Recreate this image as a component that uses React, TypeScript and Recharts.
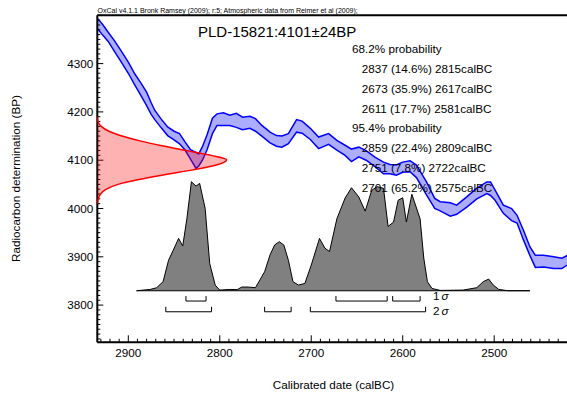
import { ComposedChart, Area, XAxis, YAxis, ReferenceLine } from "recharts";

const FONT = "'Liberation Sans', Arial, sans-serif";
const W = 567;
const H = 401;
const M_TOP = 15.3;
const M_LEFT = 97.3;
const M_BOTTOM = 58.7;

// calibration curve (IntCal09 band)
const calYears = [2934, 2928, 2922, 2915, 2908, 2900, 2893, 2886, 2880, 2875, 2871, 2864, 2857, 2850, 2844, 2838, 2832, 2826, 2823, 2819, 2814, 2808, 2803, 2796, 2789, 2782, 2775, 2767, 2761, 2754, 2745, 2738, 2732, 2725, 2716, 2710, 2701, 2692, 2681, 2672, 2663, 2656, 2648, 2640, 2630, 2621, 2614, 2607, 2600, 2592, 2585, 2574, 2565, 2559, 2548, 2541, 2530, 2519, 2508, 2504, 2499, 2490, 2481, 2475, 2468, 2461, 2455, 2446, 2435, 2426, 2420];
const curveHigh = [4394, 4381, 4365, 4347, 4327, 4303, 4279, 4259, 4241, 4219, 4203, 4185, 4169, 4160, 4155, 4138, 4122, 4116, 4113, 4128, 4152, 4187, 4196, 4198, 4193, 4197, 4189, 4191, 4186, 4172, 4158, 4151, 4150, 4155, 4184, 4181, 4166, 4148, 4155, 4141, 4131, 4123, 4127, 4120, 4106, 4096, 4091, 4090, 4096, 4099, 4090, 4055, 4021, 4014, 4012, 4007, 4024, 4042, 4055, 4055, 4038, 4007, 4000, 3986, 3955, 3921, 3903, 3903, 3900, 3897, 3903];
const curveLow = [4373, 4359, 4346, 4325, 4304, 4280, 4256, 4233, 4213, 4195, 4184, 4167, 4151, 4142, 4134, 4121, 4102, 4083, 4088, 4100, 4121, 4155, 4172, 4172, 4172, 4168, 4163, 4166, 4160, 4150, 4136, 4129, 4127, 4134, 4158, 4156, 4143, 4124, 4133, 4121, 4110, 4097, 4107, 4100, 4086, 4072, 4072, 4069, 4075, 4076, 4064, 4028, 4000, 3995, 3984, 3988, 4003, 4020, 4031, 4027, 4017, 3990, 3975, 3970, 3935, 3903, 3878, 3879, 3876, 3876, 3883];

// calibrated probability (relative)
const probYears = [2891, 2876, 2869, 2862, 2856, 2851, 2845, 2840.5, 2836, 2831, 2826, 2822, 2816, 2811, 2805, 2800, 2789, 2781, 2776, 2769, 2761, 2751, 2745, 2740, 2735, 2730, 2725, 2720, 2714, 2707, 2700, 2691, 2685, 2680, 2672, 2663, 2656, 2648, 2641, 2634, 2628, 2621, 2616, 2610, 2605, 2600, 2596, 2590, 2581, 2577, 2573, 2568, 2559, 2534, 2519, 2512, 2506, 2501, 2495, 2485, 2461];
const probValues = [0, 0.012, 0.028, 0.083, 0.28, 0.37, 0.48, 0.41, 0.66, 1.0, 0.96, 0.985, 0.755, 0.25, 0.052, 0.006, 0.012, 0.01, 0.034, 0.034, 0.028, 0.174, 0.33, 0.42, 0.45, 0.42, 0.28, 0.083, 0.052, 0.067, 0.235, 0.48, 0.39, 0.36, 0.66, 0.85, 0.945, 0.86, 0.73, 0.92, 0.955, 0.94, 0.59, 0.63, 0.83, 0.853, 0.63, 0.885, 0.66, 0.3, 0.083, 0.021, 0.003, 0.006, 0.028, 0.083, 0.107, 0.052, 0.012, 0, 0];

// radiocarbon measurement 4101±24 BP, drawn on the y axis
const gaussBP = [4190, 4180, 4170, 4160, 4150, 4140, 4130, 4120, 4110, 4101, 4090, 4080, 4070, 4060, 4050, 4040, 4030, 4020, 4010];
const gaussDensity = [0, 0.005, 0.03, 0.09, 0.19, 0.33, 0.5, 0.69, 0.88, 1.0, 0.92, 0.74, 0.52, 0.32, 0.16, 0.07, 0.025, 0.008, 0];

const oneSigma = [[2837, 2815], [2673, 2617], [2611, 2581]];
const oneSigmaPct = [14.6, 35.9, 17.7];
const twoSigma = [[2859, 2809], [2751, 2722], [2701, 2575]];
const twoSigmaPct = [22.4, 7.8, 65.2];

const xTicks: number[] = [];
for (let v = 2930; v >= 2430; v -= 10) xTicks.push(v);
const yTicks: number[] = [];
for (let v = 3730; v <= 4400; v += 10) yTicks.push(v);

const curveData = calYears.map((year, i) => ({ year, band: [curveLow[i], curveHigh[i]] }));
const probData = probYears.map((year, i) => ({ year, p: probValues[i] }));
const gaussData = gaussBP.map((bp, i) => ({ bp, d: gaussDensity[i] }));

const textLines = [
  { indent: false, text: "68.2% probability" },
  ...oneSigma.map((r, i) => ({ indent: true, text: `${r[0]} (${oneSigmaPct[i]}%) ${r[1]}calBC` })),
  { indent: false, text: "95.4% probability" },
  ...twoSigma.map((r, i) => ({ indent: true, text: `${r[0]} (${twoSigmaPct[i]}%) ${r[1]}calBC` })),
];

function XTick(props: any) {
  const { x, y, payload } = props;
  const major = payload.value % 100 === 0;
  return (
    <g>
      <line x1={x} x2={x} y1={y} y2={y - (major ? 7 : 3.5)} stroke="#000" strokeWidth={1} />
      {major && (
        <text x={x} y={y + 14.7} textAnchor="middle" fontSize={11.7} fontFamily={FONT} fill="#000">
          {payload.value}
        </text>
      )}
    </g>
  );
}

function YTick(props: any) {
  const { x, y, payload } = props;
  const major = payload.value % 100 === 0;
  return (
    <g>
      <line x1={x} x2={x + (major ? 6 : 3)} y1={y} y2={y} stroke="#000" strokeWidth={1} />
      {major && payload.value < 4400 && (
        <text x={x - 4} y={y + 4.2} textAnchor="end" fontSize={11.7} fontFamily={FONT} fill="#000">
          {payload.value}
        </text>
      )}
    </g>
  );
}

function brackets(ranges: number[][], top: number, bottom: number, key: string) {
  const out: any[] = [];
  ranges.forEach((r, i) => {
    out.push(<ReferenceLine key={`${key}b${i}`} yAxisId="p" segment={[{ x: r[0], y: bottom }, { x: r[1], y: bottom }]} stroke="#000" strokeWidth={1} />);
    out.push(<ReferenceLine key={`${key}l${i}`} yAxisId="p" segment={[{ x: r[0], y: top }, { x: r[0], y: bottom }]} stroke="#000" strokeWidth={1} />);
    out.push(<ReferenceLine key={`${key}r${i}`} yAxisId="p" segment={[{ x: r[1], y: top }, { x: r[1], y: bottom }]} stroke="#000" strokeWidth={1} />);
  });
  return out;
}

export default function App() {
  return (
    <div style={{ position: "absolute", left: 0, top: 0, width: W, height: H, background: "#fff", overflow: "hidden" }}>
      <ComposedChart width={W} height={H} margin={{ top: M_TOP, right: 0, bottom: 0, left: 0 }}>
        <XAxis
          xAxisId={0}
          type="number"
          dataKey="year"
          domain={[2420.4, 2933.9]}
          reversed
          allowDataOverflow
          ticks={xTicks}
          interval={0}
          tick={<XTick />}
          tickLine={false}
          tickSize={0}
          tickMargin={0}
          height={M_BOTTOM}
          axisLine={{ stroke: "#000", strokeWidth: 2 }}
        />
        <YAxis
          yAxisId="bp"
          type="number"
          domain={[3723, 4400]}
          allowDataOverflow
          ticks={yTicks}
          interval={0}
          tick={<YTick />}
          tickLine={false}
          tickSize={0}
          tickMargin={0}
          width={M_LEFT}
          axisLine={{ stroke: "#000", strokeWidth: 2 }}
        />
        <YAxis yAxisId="p" type="number" domain={[-0.473, 2.527]} allowDataOverflow hide />
        <Area
          yAxisId="bp"
          data={curveData}
          dataKey="band"
          type="linear"
          stroke="#0000ff"
          strokeWidth={1.5}
          fill="#0000ff"
          fillOpacity={0.32}
          isAnimationActive={false}
          dot={false}
          activeDot={false}
        />
        <Area
          yAxisId="p"
          data={probData}
          dataKey="p"
          type="linear"
          baseValue={0}
          stroke="#000"
          strokeWidth={1}
          fill="#808080"
          fillOpacity={1}
          isAnimationActive={false}
          dot={false}
          activeDot={false}
        />
        <ReferenceLine yAxisId="p" segment={[{ x: probYears[0], y: 0 }, { x: probYears[probYears.length - 1], y: 0 }]} stroke="#000" strokeWidth={1.2} />
        {brackets(oneSigma, -0.0486, -0.0945, "s1")}
        {brackets(twoSigma, -0.147, -0.193, "s2")}
        <ReferenceLine yAxisId="bp" y={4400} stroke="#000" strokeWidth={2} />
      </ComposedChart>

      <div style={{ position: "absolute", left: 0, top: 0 }}>
        <ComposedChart
          layout="vertical"
          width={W}
          height={H}
          data={gaussData}
          margin={{ top: M_TOP, right: 0, bottom: M_BOTTOM, left: M_LEFT }}
        >
          <XAxis type="number" domain={[0, 3.63]} allowDataOverflow hide />
          <YAxis type="number" dataKey="bp" domain={[3723, 4400]} reversed allowDataOverflow hide />
          <Area
            dataKey="d"
            type="monotone"
            baseValue={0}
            stroke="#ff0000"
            strokeWidth={1.5}
            fill="#ff0000"
            fillOpacity={0.3}
            isAnimationActive={false}
            dot={false}
            activeDot={false}
          />
        </ComposedChart>
      </div>

      <svg width={W} height={H} style={{ position: "absolute", left: 0, top: 0, pointerEvents: "none" }} fontFamily={FONT}>
        <text x={97.5} y={13} fontSize={7} fill="#000">
          OxCal v4.1.1 Bronk Ramsey (2009); r:5; Atmospheric data from Reimer et al (2009);
        </text>
        <text x={198} y={37} fontSize={15} fill="#000">PLD-15821:4101±24BP</text>
        {textLines.map((l, i) => (
          <text key={i} x={l.indent ? 361.7 : 352} y={53.3 + i * 19.75} fontSize={11.7} fill="#000">
            {l.text}
          </text>
        ))}
        <text x={433} y={300.3} fontSize={11.7} fill="#000">
          1<tspan dx={2} fontStyle="italic">σ</tspan>
        </text>
        <text x={433} y={315} fontSize={11.7} fill="#000">
          2<tspan dx={2} fontStyle="italic">σ</tspan>
        </text>
        <text x={333.5} y={389} fontSize={11.7} textAnchor="middle" fill="#000">
          Calibrated date (calBC)
        </text>
        <text x={20} y={178.5} fontSize={11.7} textAnchor="middle" fill="#000" transform="rotate(-90 20 178.5)">
          Radiocarbon determination (BP)
        </text>
      </svg>
    </div>
  );
}
